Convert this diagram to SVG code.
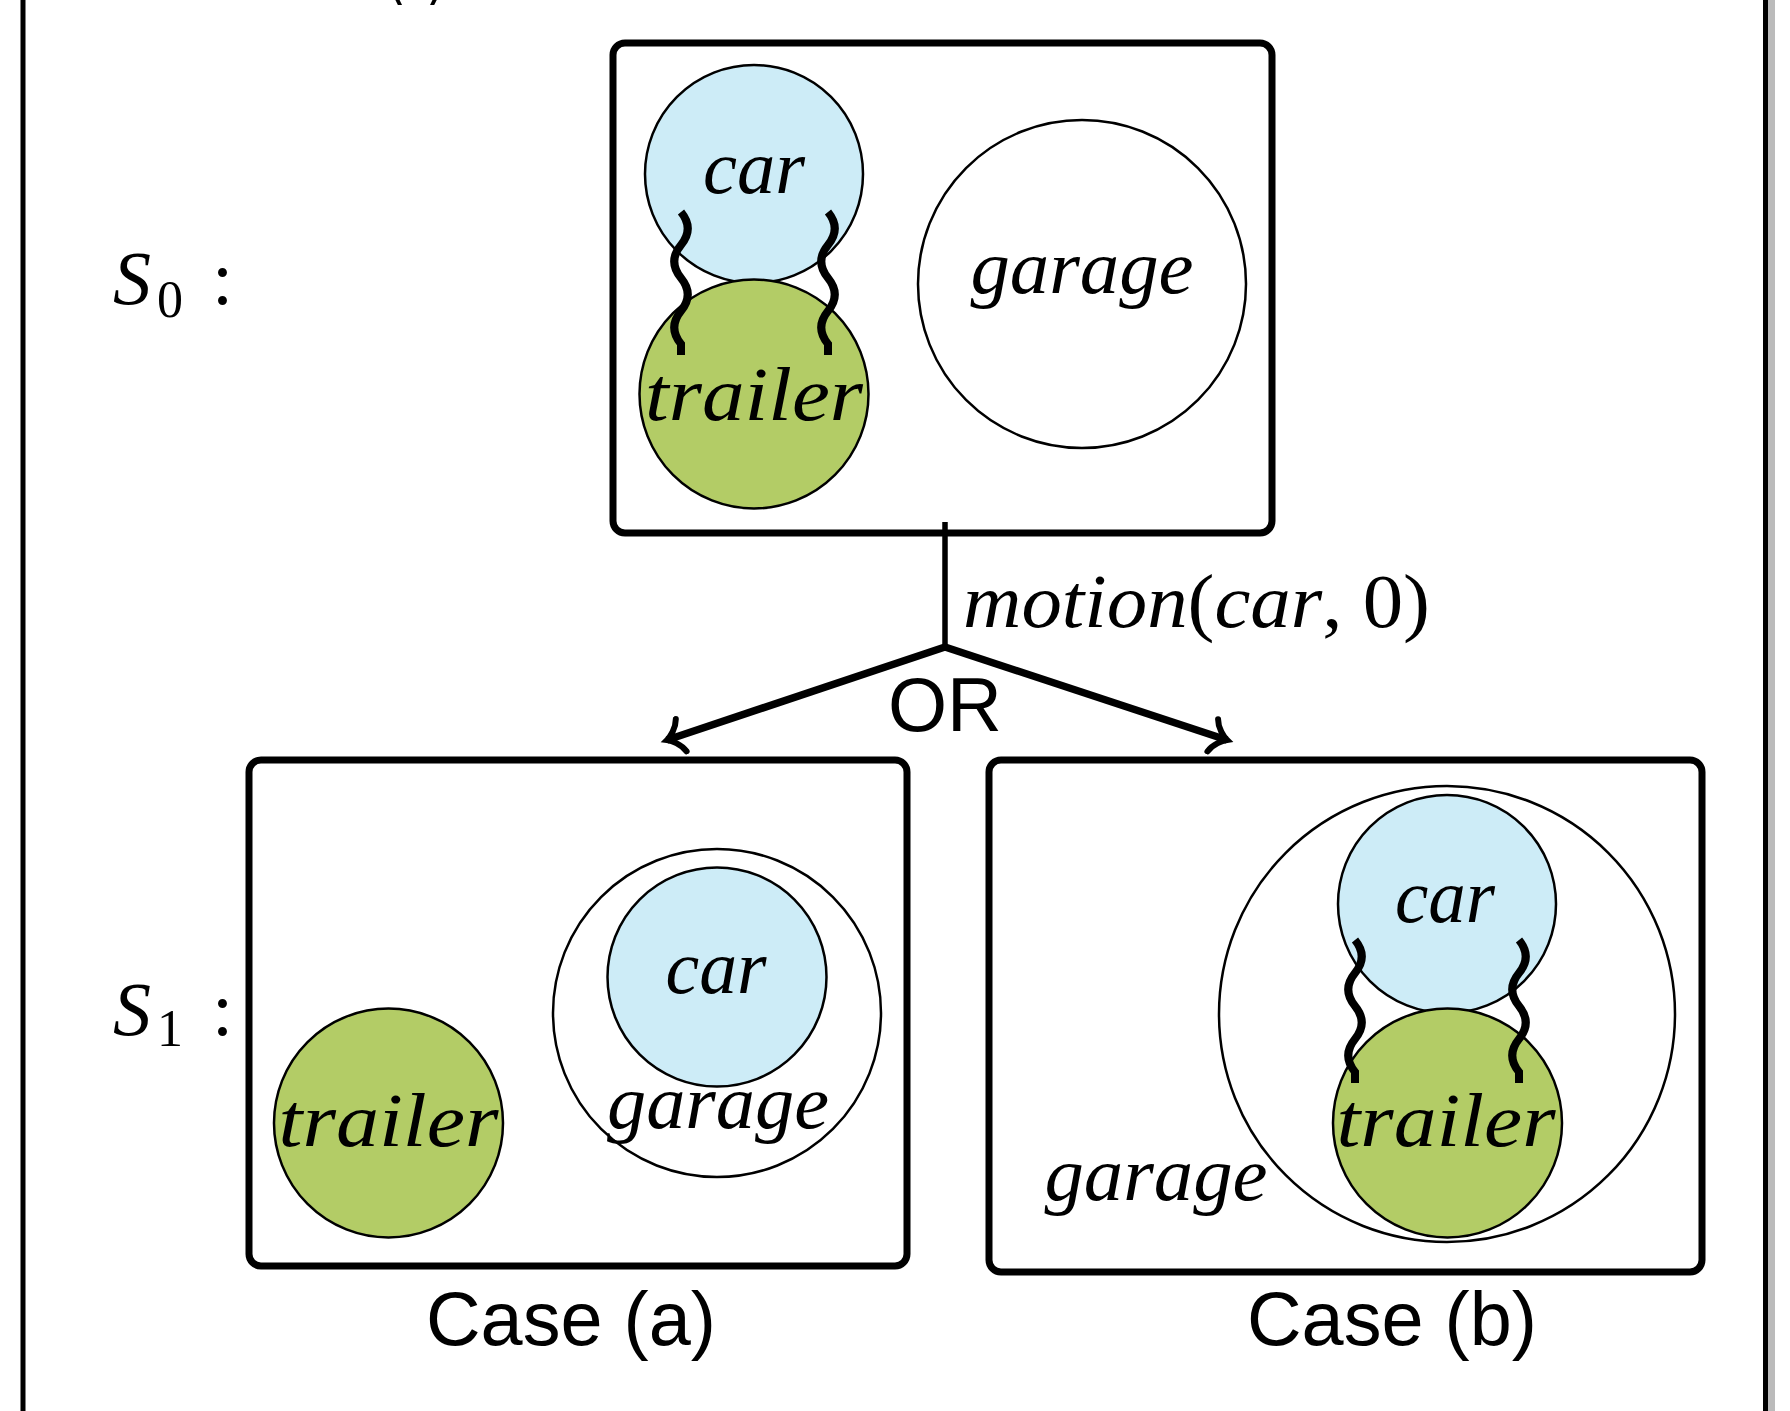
<svg xmlns="http://www.w3.org/2000/svg" width="1790" height="1411" viewBox="0 0 1790 1411">
<style>
.box{fill:#fff;stroke:#000;stroke-width:7}
.car{fill:#CDECF7;stroke:#000;stroke-width:2.5}
.trailer{fill:#B3CC66;stroke:#000;stroke-width:2.5}
.garage{fill:#fff;stroke:#000;stroke-width:2.5}
.wave{fill:none;stroke:#000;stroke-width:8}
.math{font-family:"Liberation Serif","DejaVu Serif",serif;font-style:italic;font-size:76px;fill:#000}
.up{font-style:normal}
.sub{font-style:normal;font-size:52px}
.sans{font-family:"Liberation Sans",Arial,sans-serif;font-size:76px;fill:#000}
.edge{fill:none;stroke:#000;stroke-linecap:butt}
</style>
<defs>
<marker id="tip" markerUnits="userSpaceOnUse" markerWidth="40" markerHeight="40" viewBox="-20 -20 40 40" refX="0" refY="0" orient="auto">
<path d="M-15,-17 C-12,-8 -4,-2 0,0 C-4,2 -12,8 -15,17" fill="none" stroke="#000" stroke-width="6" stroke-linecap="round"/>
</marker>
<path id="wv" d="M0,0 c9,11 9,22 0,33 c-9,11 -9,22 0,33 c9,11 9,22 0,33 c-9,11 -9,22 0,33 l0,11"/>
</defs>
<rect width="1790" height="1411" fill="#fff"/>
<g id="frame">
<line x1="23" y1="0" x2="23" y2="1411" stroke="#000" stroke-width="5"/>
<rect x="1768" y="0" width="7" height="1411" fill="#bbb"/>
<line x1="1765.5" y1="0" x2="1765.5" y2="1411" stroke="#000" stroke-width="5"/>
<text class="sans" x="416" y="-11" text-anchor="middle" textLength="60" lengthAdjust="spacingAndGlyphs">(a)</text>
</g>
<g id="label-s0">
<text class="math" x="113" y="304">S</text>
<text class="math sub" x="157" y="317">0</text>
<text class="math up" x="212" y="304">:</text>
</g>
<g id="label-s1">
<text class="math" x="113" y="1035">S</text>
<text class="math sub" x="157" y="1046">1</text>
<text class="math up" x="212" y="1035">:</text>
</g>
<g id="s0">
<rect class="box" x="613" y="43" width="659" height="490" rx="12"/>
<g id="s0-garage">
<circle class="garage" cx="1082" cy="284" r="164"/>
<text class="math" x="1082" y="293" text-anchor="middle" textLength="223" lengthAdjust="spacingAndGlyphs">garage</text>
</g>
<g id="s0-car">
<circle class="car" cx="754" cy="174" r="109"/>
<text class="math" x="754" y="193" text-anchor="middle" textLength="102" lengthAdjust="spacingAndGlyphs">car</text>
</g>
<g id="s0-trailer">
<circle class="trailer" cx="754" cy="394" r="114.5"/>
<text class="math" x="754" y="420" text-anchor="middle" textLength="218" lengthAdjust="spacingAndGlyphs">trailer</text>
</g>
<g id="s0-hitch">
<use href="#wv" class="wave" x="681" y="212"/>
<use href="#wv" class="wave" x="828" y="212"/>
</g>
</g>
<g id="connectors">
<line class="edge" x1="945" y1="522" x2="945" y2="650" stroke-width="5.5"/>
<line class="edge" x1="945" y1="647" x2="667" y2="740" stroke-width="7.5" marker-end="url(#tip)"/>
<line class="edge" x1="945" y1="647" x2="1227" y2="740" stroke-width="7.5" marker-end="url(#tip)"/>
<text class="math" x="963" y="627" textLength="467" lengthAdjust="spacingAndGlyphs">motion<tspan class="up">(</tspan>car<tspan class="up">, 0)</tspan></text>
<text class="sans" x="945" y="731" text-anchor="middle">OR</text>
</g>
<g id="case-a">
<rect class="box" x="249" y="760" width="658" height="506" rx="12"/>
<g id="a-trailer">
<circle class="trailer" cx="388.5" cy="1123" r="114.5"/>
<text class="math" x="388.5" y="1146" text-anchor="middle" textLength="220" lengthAdjust="spacingAndGlyphs">trailer</text>
</g>
<g id="a-garage">
<circle class="garage" cx="717" cy="1013" r="164"/>
</g>
<g id="a-car">
<circle class="car" cx="717" cy="977" r="109.5"/>
<text class="math" x="716" y="993" text-anchor="middle" textLength="101" lengthAdjust="spacingAndGlyphs">car</text>
</g>
<text class="math" x="718" y="1128" text-anchor="middle" textLength="222" lengthAdjust="spacingAndGlyphs">garage</text>
<text class="sans" x="571" y="1345" text-anchor="middle" textLength="290" lengthAdjust="spacingAndGlyphs">Case (a)</text>
</g>
<g id="case-b">
<rect class="box" x="989" y="760" width="713" height="512" rx="12"/>
<g id="b-garage">
<circle class="garage" cx="1447" cy="1014" r="228"/>
<text class="math" x="1156" y="1200" text-anchor="middle" textLength="223" lengthAdjust="spacingAndGlyphs">garage</text>
</g>
<g id="b-car">
<circle class="car" cx="1447" cy="904" r="109"/>
<text class="math" x="1445" y="922" text-anchor="middle" textLength="100" lengthAdjust="spacingAndGlyphs">car</text>
</g>
<g id="b-trailer">
<circle class="trailer" cx="1447.5" cy="1123" r="114.5"/>
<text class="math" x="1446" y="1146" text-anchor="middle" textLength="219" lengthAdjust="spacingAndGlyphs">trailer</text>
</g>
<g id="b-hitch">
<use href="#wv" class="wave" x="1355" y="940"/>
<use href="#wv" class="wave" x="1519" y="940"/>
</g>
<text class="sans" x="1392" y="1345" text-anchor="middle" textLength="290" lengthAdjust="spacingAndGlyphs">Case (b)</text>
</g>
</svg>
